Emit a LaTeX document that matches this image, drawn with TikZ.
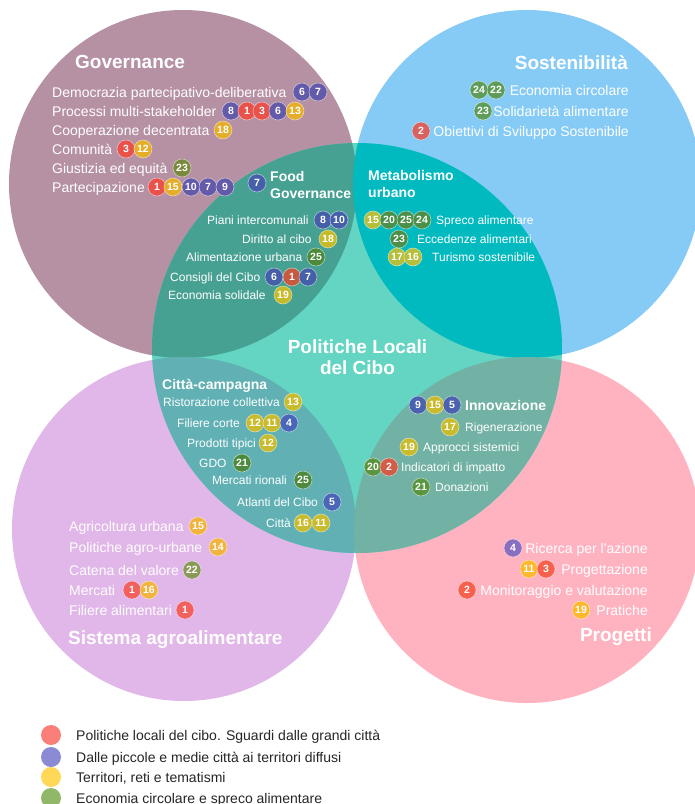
\documentclass[tikz,border=0pt]{standalone}
\usepackage{fontspec}
\setmainfont{Liberation Sans}

% area colours
\definecolor{cGov}{HTML}{B690A3}
\definecolor{cSost}{HTML}{86CBF6}
\definecolor{cSist}{HTML}{E1B6E8}
\definecolor{cProg}{HTML}{FFB3C0}
\definecolor{cMid}{HTML}{63D5C2}
\definecolor{cGovMid}{HTML}{47A193}
\definecolor{cSostMid}{HTML}{00BAC0}
\definecolor{cSistMid}{HTML}{60B0B4}
\definecolor{cProgMid}{HTML}{72B2A5}
% badge colours, per area
\definecolor{gRed}{HTML}{E8524A}
\definecolor{gBlue}{HTML}{645AAA}
\definecolor{gYel}{HTML}{E5AE2A}
\definecolor{gOli}{HTML}{7A8A3C}
\definecolor{fBlue}{HTML}{4560A8}
\definecolor{fYel}{HTML}{C5BA28}
\definecolor{fGrn}{HTML}{4A8A3A}
\definecolor{fRed}{HTML}{C55A40}
\definecolor{sGrn}{HTML}{5E9C5A}
\definecolor{sRed}{HTML}{D86262}
\definecolor{mYel}{HTML}{B5BF3A}
\definecolor{mGrn}{HTML}{4A9048}
\definecolor{cYel}{HTML}{C9BB2E}
\definecolor{cBlue}{HTML}{4A66B8}
\definecolor{cGrn}{HTML}{4E8A3E}
\definecolor{iBlue}{HTML}{4B63AE}
\definecolor{iYel}{HTML}{C9BB2E}
\definecolor{iGrn}{HTML}{5A9540}
\definecolor{iRed}{HTML}{D35C48}
\definecolor{aYel}{HTML}{F2B440}
\definecolor{aOli}{HTML}{8A9858}
\definecolor{aRed}{HTML}{F26060}
\definecolor{pPur}{HTML}{8A6EC0}
\definecolor{pYel}{HTML}{FDB830}
\definecolor{pRed}{HTML}{F8604E}
% legend colours
\definecolor{lRed}{HTML}{FA7F78}
\definecolor{lBlue}{HTML}{8A8AD5}
\definecolor{lYel}{HTML}{FFD857}
\definecolor{lGrn}{HTML}{90B868}

\tikzset{
  item/.style={inner sep=0pt, text=white, font=\fontsize{14}{16}\selectfont, text height=10pt, text depth=0pt},
  itemS/.style={inner sep=0pt, text=white, font=\fontsize{12}{14}\selectfont, text height=8.6pt, text depth=0pt},
  head/.style={inner sep=0pt, text=white, font=\fontsize{19}{21}\selectfont\bfseries, text height=13.6pt, text depth=0pt},
  subhead/.style={inner sep=0pt, text=white, font=\fontsize{14}{17}\selectfont\bfseries, text height=10pt, text depth=0pt},
  num/.style={circle, minimum size=18pt, inner sep=0pt, draw=white, draw opacity=0.55, line width=0.6pt, text=white, font=\fontsize{10.5}{12}\selectfont\bfseries},
  legdot/.style={circle, minimum size=20pt, inner sep=0pt},
  legtxt/.style={inner sep=0pt, anchor=west, text=black!85, font=\fontsize{14}{16}\selectfont, text height=10pt, text depth=0pt},
}

\begin{document}
\begin{tikzpicture}[x=1pt, y=-1pt]
\useasboundingbox (0,0) rectangle (695,804);
\fill[white] (0,0) rectangle (695,804);

% the four thematic circles
\fill[cGov]  (183,184) circle[radius=174pt];
\fill[cSost] (527,184) circle[radius=174pt];
\fill[cSist] (184,529) circle[radius=172pt];
\fill[cProg] (527,530) circle[radius=173pt];
% central circle and its overlaps
\fill[cMid] (357,348) circle[radius=205pt];
\begin{scope}
  \clip (357,348) circle[radius=205pt];
  \fill[cGovMid]  (183,184) circle[radius=174pt];
  \fill[cSostMid] (527,184) circle[radius=174pt];
  \fill[cSistMid] (184,529) circle[radius=172pt];
  \fill[cProgMid] (527,530) circle[radius=173pt];
\end{scope}

% ---------- Governance ----------
\node[head, anchor=west] (gov) at (75,62) {Governance};
\node[item, anchor=west] (gov1) at (52,92) {Democrazia partecipativo-deliberativa};
\node[num, fill=gBlue] (gov1a) at (302,92) {6};
\node[num, fill=gBlue] (gov1b) at (318,92) {7};
\node[item, anchor=west] (gov2) at (52,111) {Processi multi-stakeholder};
\node[num, fill=gBlue] (gov2a) at (231,111) {8};
\node[num, fill=gRed]  (gov2b) at (247,111) {1};
\node[num, fill=gRed]  (gov2c) at (262,111) {3};
\node[num, fill=gBlue] (gov2d) at (278,111) {6};
\node[num, fill=gYel]  (gov2e) at (295,111) {13};
\node[item, anchor=west] (gov3) at (52,130) {Cooperazione decentrata};
\node[num, fill=gYel] (gov3a) at (223,130) {18};
\node[item, anchor=west] (gov4) at (52,149) {Comunità};
\node[num, fill=gRed] (gov4a) at (126,149) {3};
\node[num, fill=gYel] (gov4b) at (143,149) {12};
\node[item, anchor=west] (gov5) at (52,168) {Giustizia ed equità};
\node[num, fill=gOli] (gov5a) at (182,168) {23};
\node[item, anchor=west] (gov6) at (52,187) {Partecipazione};
\node[num, fill=gRed]  (gov6a) at (157,187) {1};
\node[num, fill=gYel]  (gov6b) at (173,187) {15};
\node[num, fill=gBlue] (gov6c) at (191,187) {10};
\node[num, fill=gBlue] (gov6d) at (208,187) {7};
\node[num, fill=gBlue] (gov6e) at (225,187) {9};

% ---------- Food Governance ----------
\node[num, fill=fBlue] (fg0) at (257,183) {7};
\node[subhead, anchor=west] (fgA) at (270,176) {Food};
\node[subhead, anchor=west] (fgB) at (270,193) {Governance};
\node[itemS, anchor=west] (fg1) at (207,220) {Piani intercomunali};
\node[num, fill=fBlue] (fg1a) at (323,220) {8};
\node[num, fill=fBlue] (fg1b) at (339,220) {10};
\node[itemS, anchor=west] (fg2) at (242,239) {Diritto al cibo};
\node[num, fill=fYel] (fg2a) at (328,239) {18};
\node[itemS, anchor=west] (fg3) at (186,257) {Alimentazione urbana};
\node[num, fill=fGrn] (fg3a) at (316,257) {25};
\node[itemS, anchor=west] (fg4) at (170,277) {Consigli del Cibo};
\node[num, fill=fBlue] (fg4a) at (274,277) {6};
\node[num, fill=fRed]  (fg4b) at (292,277) {1};
\node[num, fill=fBlue] (fg4c) at (308,277) {7};
\node[itemS, anchor=west] (fg5) at (168,295) {Economia solidale};
\node[num, fill=fYel] (fg5a) at (283,295) {19};

% ---------- Sostenibilità ----------
\node[head, anchor=east] (sost) at (628,63) {Sostenibilità};
\node[item, anchor=east] (sost1) at (629,90) {Economia circolare};
\node[num, fill=sGrn] (sost1a) at (479,90) {24};
\node[num, fill=sGrn] (sost1b) at (496,90) {22};
\node[item, anchor=east] (sost2) at (629,111) {Solidarietà alimentare};
\node[num, fill=sGrn] (sost2a) at (483,111) {23};
\node[item, anchor=east] (sost3) at (629,131) {Obiettivi di Sviluppo Sostenibile};
\node[num, fill=sRed] (sost3a) at (421,131) {2};

% ---------- Metabolismo urbano ----------
\node[subhead, anchor=west] (metA) at (368,175) {Metabolismo};
\node[subhead, anchor=west] (metB) at (368,192) {urbano};
\node[num, fill=mYel] (met1a) at (373,220) {15};
\node[num, fill=mGrn] (met1b) at (389,220) {20};
\node[num, fill=mGrn] (met1c) at (406,220) {25};
\node[num, fill=mGrn] (met1d) at (422,220) {24};
\node[itemS, anchor=west] (met1) at (436,220) {Spreco alimentare};
\node[num, fill=mGrn] (met2a) at (399,239) {23};
\node[itemS, anchor=west] (met2) at (417,239) {Eccedenze alimentari};
\node[num, fill=mYel] (met3a) at (397,257) {17};
\node[num, fill=mYel] (met3b) at (413,257) {16};
\node[itemS, anchor=west] (met3) at (432,257) {Turismo sostenibile};

% ---------- centre ----------
\node[head] (plcA) at (357.5,347) {Politiche Locali};
\node[head] (plcB) at (357.5,368) {del Cibo};

% ---------- Città-campagna ----------
\node[subhead, anchor=west] (cc) at (162,384) {Città-campagna};
\node[itemS, anchor=west] (cc1) at (163,402) {Ristorazione collettiva};
\node[num, fill=cYel] (cc1a) at (293,402) {13};
\node[itemS, anchor=west] (cc2) at (177,423) {Filiere corte};
\node[num, fill=cYel]  (cc2a) at (255,423) {12};
\node[num, fill=cYel]  (cc2b) at (272,423) {11};
\node[num, fill=cBlue] (cc2c) at (289,423) {4};
\node[itemS, anchor=west] (cc3) at (187,443) {Prodotti tipici};
\node[num, fill=cYel] (cc3a) at (268,443) {12};
\node[itemS, anchor=west] (cc4) at (199,463) {GDO};
\node[num, fill=cGrn] (cc4a) at (242,463) {21};
\node[itemS, anchor=west] (cc5) at (212,480) {Mercati rionali};
\node[num, fill=cGrn] (cc5a) at (303,480) {25};
\node[itemS, anchor=west] (cc6) at (237,502) {Atlanti del Cibo};
\node[num, fill=cBlue] (cc6a) at (332,502) {5};
\node[itemS, anchor=west] (cc7) at (266,523) {Città};
\node[num, fill=cYel] (cc7a) at (303,523) {16};
\node[num, fill=cYel] (cc7b) at (321,523) {11};

% ---------- Innovazione ----------
\node[num, fill=iBlue] (inn0a) at (418,405) {9};
\node[num, fill=iYel]  (inn0b) at (435,405) {15};
\node[num, fill=iBlue] (inn0c) at (452,405) {5};
\node[subhead, anchor=west] (inn) at (465,405) {Innovazione};
\node[num, fill=iYel] (inn1a) at (450,427) {17};
\node[itemS, anchor=west] (inn1) at (465,427) {Rigenerazione};
\node[num, fill=iYel] (inn2a) at (409,447) {19};
\node[itemS, anchor=west] (inn2) at (423,447) {Approcci sistemici};
\node[num, fill=iGrn] (inn3a) at (373,467) {20};
\node[num, fill=iRed] (inn3b) at (389,467) {2};
\node[itemS, anchor=west] (inn3) at (401,467) {Indicatori di impatto};
\node[num, fill=iGrn] (inn4a) at (421,487) {21};
\node[itemS, anchor=west] (inn4) at (435,487) {Donazioni};

% ---------- Sistema agroalimentare ----------
\node[item, anchor=west] (sa1) at (69,526) {Agricoltura urbana};
\node[num, fill=aYel] (sa1a) at (198,526) {15};
\node[item, anchor=west] (sa2) at (69,547) {Politiche agro-urbane};
\node[num, fill=aYel] (sa2a) at (218,547) {14};
\node[item, anchor=west] (sa3) at (69,570) {Catena del valore};
\node[num, fill=aOli] (sa3a) at (192,570) {22};
\node[item, anchor=west] (sa4) at (69,590) {Mercati};
\node[num, fill=aRed] (sa4a) at (132,590) {1};
\node[num, fill=aYel] (sa4b) at (149,590) {16};
\node[item, anchor=west] (sa5) at (69,610) {Filiere alimentari};
\node[num, fill=aRed] (sa5a) at (185,610) {1};
\node[head, anchor=west] (sa) at (68,638) {Sistema agroalimentare};

% ---------- Progetti ----------
\node[num, fill=pPur] (pr1a) at (513,548) {4};
\node[item, anchor=east] (pr1) at (648,548) {Ricerca per l\textquotesingle azione};
\node[num, fill=pYel] (pr2a) at (529,569) {11};
\node[num, fill=pRed] (pr2b) at (546,569) {3};
\node[item, anchor=east] (pr2) at (648,569) {Progettazione};
\node[num, fill=pRed] (pr3a) at (467,590) {2};
\node[item, anchor=east] (pr3) at (648,590) {Monitoraggio e valutazione};
\node[num, fill=pYel] (pr4a) at (581,610) {19};
\node[item, anchor=east] (pr4) at (648,610) {Pratiche};
\node[head, anchor=east] (pr) at (652,635) {Progetti};

% ---------- legend ----------
\node[legdot, fill=lRed]  (lg1) at (51,735) {};
\node[legtxt] (lt1) at (76,735) {Politiche locali del cibo. Sguardi dalle grandi città};
\node[legdot, fill=lBlue] (lg2) at (51,757) {};
\node[legtxt] (lt2) at (76,757) {Dalle piccole e medie città ai territori diffusi};
\node[legdot, fill=lYel]  (lg3) at (51,777) {};
\node[legtxt] (lt3) at (76,777) {Territori, reti e tematismi};
\node[legdot, fill=lGrn]  (lg4) at (51,798) {};
\node[legtxt] (lt4) at (76,798) {Economia circolare e spreco alimentare};
\end{tikzpicture}
\end{document}
